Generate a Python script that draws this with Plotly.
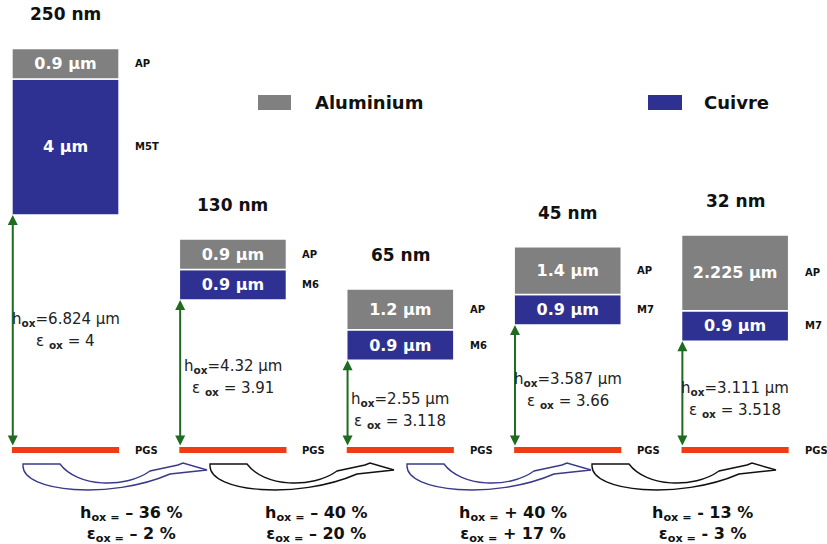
import plotly.graph_objects as go

# ---------------- data ----------------
nodes = ["250 nm", "130 nm", "65 nm", "45 nm", "32 nm"]
al_thick = [0.9, 0.9, 1.2, 1.4, 2.225]          # Aluminium (AP) thickness, µm
cu_thick = [4, 0.9, 0.9, 0.9, 0.9]              # Cuivre thickness, µm
cu_level = ["M5T", "M6", "M6", "M7", "M7"]
al_level = ["AP", "AP", "AP", "AP", "AP"]
h_ox = [6.824, 4.32, 2.55, 3.587, 3.111]        # oxide height, µm
eps_ox = [4, 3.91, 3.118, 3.66, 3.518]
delta_h = ["– 36 %", "– 40 %", "+ 40 %", "- 13 %"]
delta_eps = ["– 2 %", "– 20 %", "+ 17 %", "- 3 %"]

# ---------------- layout / style ----------------
W, H = 827, 544
PX_PER_X = 167.4
X_LEFT_PX = 65.5
PX_PER_UM = 34.0
Y0_PX = 447
BAR_W = 0.64
xr = [-X_LEFT_PX / PX_PER_X, (W - X_LEFT_PX) / PX_PER_X]
yr = [-(H - Y0_PX) / PX_PER_UM, Y0_PX / PX_PER_UM]
GRAY = "#808080"
BLUE = "#2e3192"
RED = "#f03c14"
GREEN = "#1f6b1f"
FONT = "DejaVu Sans"
ARROW_X0 = [23, 210, 407, 592]
ARROW_COL = ["#3a3a8a", "#111111", "#3a3a8a", "#111111"]
PCT_X = [131, 316, 513, 702]

x = list(range(len(nodes)))
cu_base = h_ox
al_base = [h + c for h, c in zip(h_ox, cu_thick)]
tops = [b + a for b, a in zip(al_base, al_thick)]

fig = go.Figure()
fig.add_trace(go.Bar(
    x=x, y=cu_thick, base=cu_base, width=BAR_W, name="Cuivre",
    marker=dict(color=BLUE, line=dict(color="white", width=1.5)),
    text=[f"{v:g} µm" for v in cu_thick], textposition="inside",
    insidetextanchor="middle", constraintext="none", textangle=0,
    textfont=dict(family=FONT, size=16, color="white", weight="bold"),
    hoverinfo="skip", showlegend=False))
fig.add_trace(go.Bar(
    x=x, y=al_thick, base=al_base, width=BAR_W, name="Aluminium",
    marker=dict(color=GRAY, line=dict(color="white", width=1.5)),
    text=[f"{v:g} µm" for v in al_thick], textposition="inside",
    insidetextanchor="middle", constraintext="none", textangle=0,
    textfont=dict(family=FONT, size=16, color="white", weight="bold"),
    hoverinfo="skip", showlegend=False))

shapes = []
ann = []
pgs_h = 6 / PX_PER_UM
lab_dx = BAR_W / 2 + 14 / PX_PER_X
for i in x:
    # PGS red line
    shapes.append(dict(type="rect", xref="x", yref="y", x0=i - BAR_W / 2, x1=i + BAR_W / 2,
                       y0=-pgs_h, y1=0, fillcolor=RED, line=dict(width=0), layer="above"))
    # level labels
    ann.append(dict(x=i + lab_dx, y=al_base[i] + al_thick[i] / 2, text=al_level[i], showarrow=False,
                    xanchor="left", font=dict(family=FONT, size=10, color="#111", weight="bold")))
    ann.append(dict(x=i + lab_dx, y=cu_base[i] + cu_thick[i] / 2, text=cu_level[i], showarrow=False,
                    xanchor="left", font=dict(family=FONT, size=10, color="#111", weight="bold")))
    ann.append(dict(x=i + lab_dx, y=-pgs_h / 2, text="PGS", showarrow=False,
                    xanchor="left", font=dict(family=FONT, size=10, color="#111", weight="bold")))
    # node title
    ann.append(dict(x=i, y=tops[i], text=nodes[i], showarrow=False, yanchor="bottom", yshift=22,
                    font=dict(family=FONT, size=17, color="#111", weight="bold")))
    # green double arrow
    ann.append(dict(x=i - BAR_W / 2 + 0.005, y=h_ox[i], ax=i - BAR_W / 2 + 0.005, ay=0,
                    xref="x", yref="y", axref="x", ayref="y", text="", showarrow=True,
                    arrowhead=2, startarrowhead=2, arrowside="end+start", arrowsize=1,
                    startarrowsize=1, arrowwidth=2, arrowcolor=GREEN, standoff=0, startstandoff=0))
    # h_ox / eps labels
    ann.append(dict(x=i, y=h_ox[i] * 0.55, text=f"h<sub><b>ox</b></sub>={h_ox[i]:g} µm", showarrow=False,
                    font=dict(family=FONT, size=15, color="#222")))
    ann.append(dict(x=i, y=h_ox[i] * 0.55, yshift=-22, text=f"ε <sub><b>ox</b></sub> = {eps_ox[i]:g}",
                    showarrow=False, font=dict(family=FONT, size=15, color="#222")))


def px(xp):
    return xp / W


def py(yp):
    return 1 - yp / H


def arrow_path(x0):
    f = lambda dx, y: f"{px(x0 + dx):.5f},{py(y):.5f}"
    return (f"M{f(0, 466)} L{f(0, 464)} L{f(37, 464)} "
            f"C{f(54, 487)} {f(102, 489)} {f(127, 471)} "
            f"L{f(155, 465)} L{f(160, 463)} L{f(184, 470)} L{f(147, 474)} "
            f"C{f(87, 500)} {f(0, 492)} {f(0, 466)} Z")


for k, x0 in enumerate(ARROW_X0):
    shapes.append(dict(type="path", xref="paper", yref="paper", path=arrow_path(x0),
                       line=dict(color=ARROW_COL[k], width=1.4), fillcolor="rgba(0,0,0,0)"))
    ann.append(dict(xref="paper", yref="paper", x=px(PCT_X[k]), y=py(524), xanchor="center",
                    yanchor="middle", align="center",
                    text=f"h<sub>ox =</sub> {delta_h[k]}<br>ε<sub>ox =</sub> {delta_eps[k]}",
                    showarrow=False,
                    font=dict(family=FONT, size=16, color="#111", weight="bold")))

# legend (manual)
for (x0, x1, col, label, tx) in [(258, 291, GRAY, "Aluminium", 313), (648, 682, BLUE, "Cuivre", 702)]:
    shapes.append(dict(type="rect", xref="paper", yref="paper", x0=px(x0), x1=px(x1),
                       y0=py(110), y1=py(95), fillcolor=col, line=dict(width=0)))
    ann.append(dict(xref="paper", yref="paper", x=px(tx), y=py(102.5), text=label, showarrow=False,
                    xanchor="left", yanchor="middle",
                    font=dict(family=FONT, size=18, color="#111", weight="bold")))

fig.update_layout(
    width=W, height=H, margin=dict(l=0, r=0, t=0, b=0),
    paper_bgcolor="white", plot_bgcolor="white", barmode="overlay",
    xaxis=dict(range=xr, visible=False, fixedrange=True),
    yaxis=dict(range=yr, visible=False, fixedrange=True),
    shapes=shapes, annotations=ann, showlegend=False,
)
fig.write_html("out.html", config={"displayModeBar": False},
               post_script="document.body.style.margin='0px';")
